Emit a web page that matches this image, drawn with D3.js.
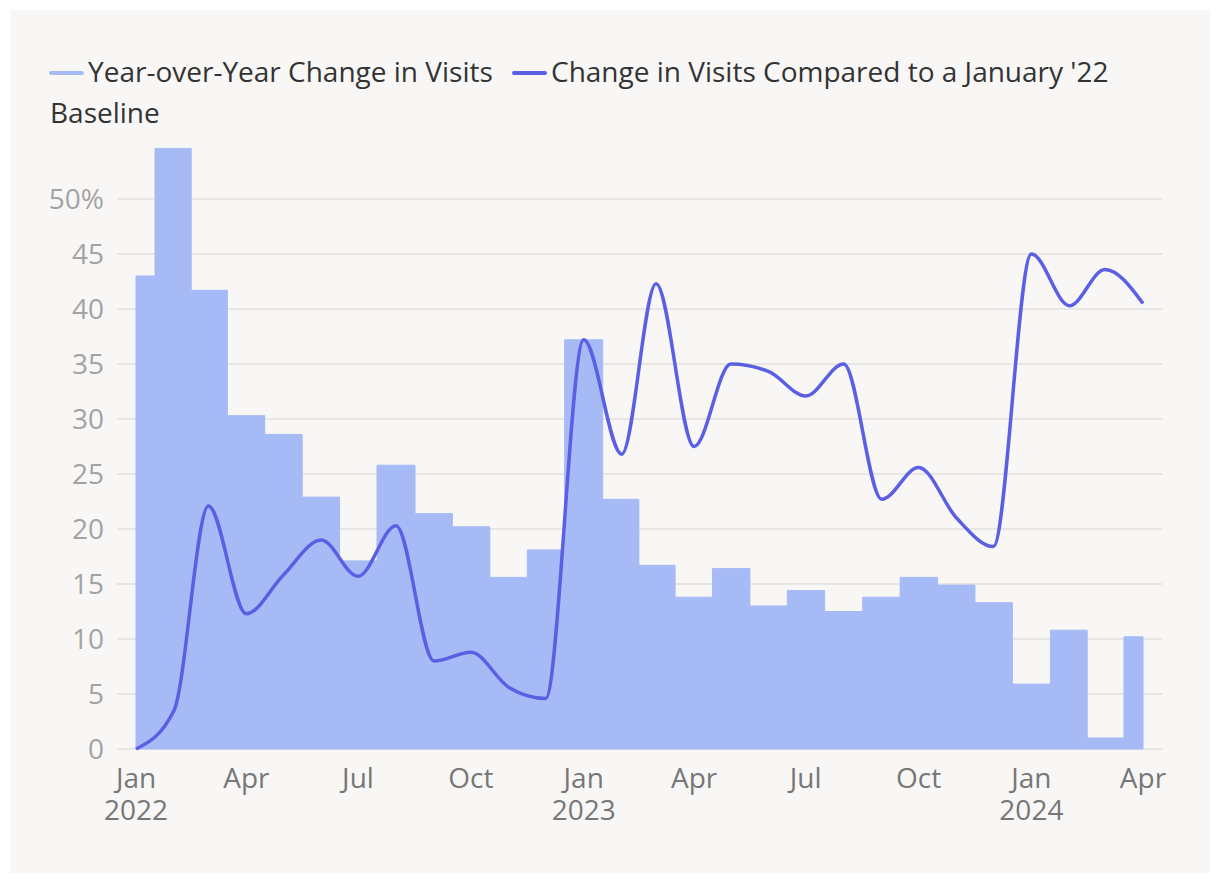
<!DOCTYPE html>
<html><head><meta charset="utf-8">
<script src="https://cdn.jsdelivr.net/npm/d3@7"></script>
<style>
html,body{margin:0;padding:0;background:#fff;}
svg{display:block;font-family:"Open Sans",sans-serif;}
</style></head>
<body><svg id="c" width="1220" height="884"></svg>
<script>
const months = ["2022-01","2022-02","2022-03","2022-04","2022-05","2022-06","2022-07","2022-08","2022-09","2022-10","2022-11","2022-12",
"2023-01","2023-02","2023-03","2023-04","2023-05","2023-06","2023-07","2023-08","2023-09","2023-10","2023-11","2023-12",
"2024-01","2024-02","2024-03","2024-04"];
const yoyChange = [43.0,54.6,41.7,30.3,28.6,22.9,17.1,25.8,21.4,20.2,15.6,18.1,
37.2,22.7,16.7,13.8,16.4,13.0,14.4,12.5,13.8,15.6,14.9,13.3,
5.9,10.8,1.0,10.2];
const vsBaseline = [0,3.5,22.1,12.3,15.8,19.0,15.7,20.3,8.0,8.8,5.6,4.6,
37.2,26.8,42.3,27.5,35.0,34.3,32.1,35.0,22.7,25.6,21.0,18.4,
45.0,40.3,43.6,40.5];
const yTicks = [0,5,10,15,20,25,30,35,40,45,50];
const seriesNames = ["Year-over-Year Change in Visits","Change in Visits Compared to a January '22 Baseline"];

const parse = d3.timeParse("%Y-%m");
const data = months.map((m,i)=>({d:parse(m), yoy:yoyChange[i], base:vsBaseline[i]}));

const svg = d3.select("#c");
svg.append("rect").attr("x",10).attr("y",10).attr("width",1200).attr("height",863).attr("fill","#f8f7f5");

const x = d3.scaleTime().domain([data[0].d, data[data.length-1].d]).range([136,1143]);
const y = d3.scaleLinear().domain([0,50]).range([749,199]);

// gridlines
svg.append("g").selectAll("line").data(yTicks).join("line")
  .attr("x1",117).attr("x2",1162).attr("y1",d=>y(d)).attr("y2",d=>y(d))
  .attr("stroke","#e3e1df").attr("stroke-width",1.5);

// y labels
svg.append("g").selectAll("text").data(yTicks).join("text")
  .attr("x",104).attr("y",d=>y(d)+10).attr("text-anchor","end")
  .attr("font-size",28).attr("fill","#a3a3a3")
  .text(d=>d===50?"50%":d);

// area
const area = d3.area().curve(d3.curveStep).x(d=>x(d.d)).y0(y(0)).y1(d=>y(d.yoy));
svg.append("path").datum(data).attr("d",area).attr("fill","#a6bbf6").attr("stroke","#a6bbf6").attr("stroke-width",1);

// line
const line = d3.line().curve(d3.curveMonotoneX).x(d=>x(d.d)).y(d=>y(d.base));
svg.append("path").datum(data).attr("d",line).attr("fill","none").attr("stroke","#5b5fe3").attr("stroke-width",3.5);

// x axis labels
const xTicks = data.filter(d=>d.d.getMonth()%3===0).map(d=>d.d);
const fmt = d3.timeFormat("%b");
svg.append("g").selectAll("text").data(xTicks).join("text")
  .attr("x",d=>x(d)).attr("y",788).attr("text-anchor","middle")
  .attr("font-size",28).attr("fill","#777").text(d=>fmt(d));
svg.append("g").selectAll("text").data(xTicks.filter(d=>d.getMonth()===0)).join("text")
  .attr("x",d=>x(d)).attr("y",820).attr("text-anchor","middle")
  .attr("font-size",28).attr("fill","#777").text(d=>d.getFullYear());

// legend
const lg = svg.append("g");
lg.append("line").attr("x1",51).attr("x2",82).attr("y1",73).attr("y2",73).attr("stroke","#a6bbf6").attr("stroke-width",4).attr("stroke-linecap","round");
lg.append("text").attr("x",88).attr("y",82).attr("font-size",28).attr("fill","#333").text(seriesNames[0]);
lg.append("line").attr("x1",514).attr("x2",545).attr("y1",73).attr("y2",73).attr("stroke","#5b5fe3").attr("stroke-width",4).attr("stroke-linecap","round");
const words = seriesNames[1].split(" ");
lg.append("text").attr("x",551).attr("y",82).attr("font-size",28).attr("fill","#333").text(words.slice(0,-1).join(" "));
lg.append("text").attr("x",50).attr("y",123).attr("font-size",28).attr("fill","#333").text(words[words.length-1]);
</script></body></html>
